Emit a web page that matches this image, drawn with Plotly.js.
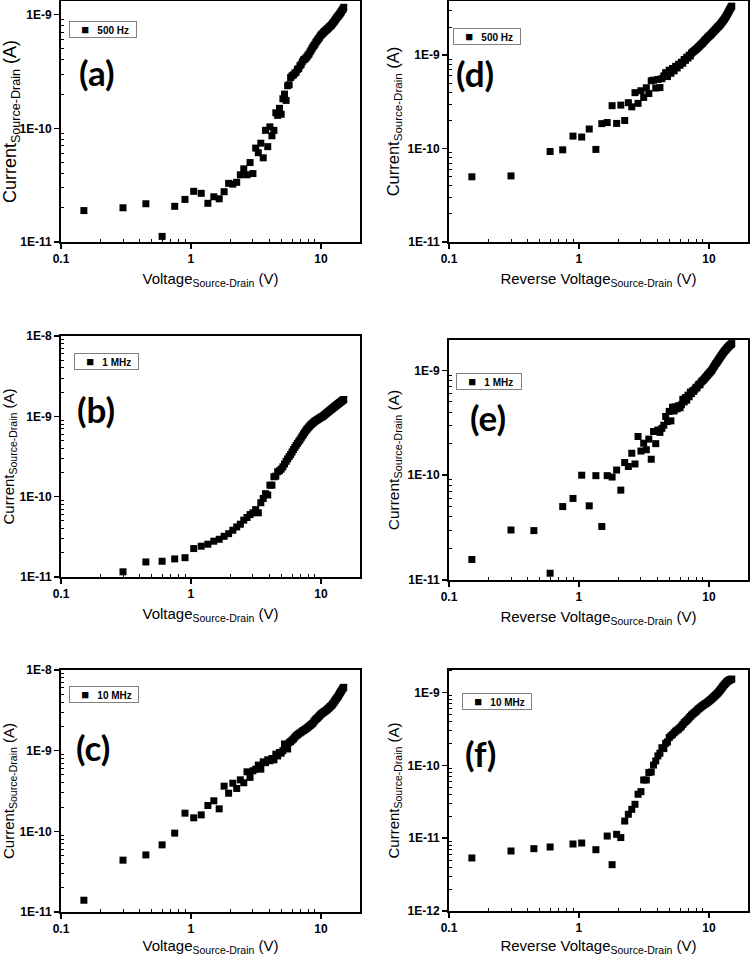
<!DOCTYPE html>
<html>
<head>
<meta charset="utf-8">
<script src="https://cdn.plot.ly/plotly-3.0.1.min.js"></script>
<style>html,body{margin:0;padding:0;background:#fff;}#chart{width:750px;height:956px;}</style>
</head>
<body>
<div id="chart"></div>
<script>
// Source-drain voltage (V), common to all six panels
const voltage = [0.15,0.3,0.45,0.6,0.75,0.9,1.05,1.2,1.35,1.5,
  1.65,1.8,1.95,2.1,2.25,2.4,2.55,2.7,2.85,3.0,
  3.15,3.3,3.45,3.6,3.75,3.9,4.05,4.2,4.35,4.5,
  4.65,4.8,4.95,5.1,5.25,5.4,5.55,5.7,5.85,6.0,
  6.15,6.3,6.45,6.6,6.75,6.9,7.05,7.2,7.35,7.5,
  7.65,7.8,7.95,8.1,8.25,8.4,8.55,8.7,8.85,9.0,
  9.15,9.3,9.45,9.6,9.75,9.9,10.05,10.2,10.35,10.5,
  10.65,10.8,10.95,11.1,11.25,11.4,11.55,11.7,11.85,12.0,
  12.15,12.3,12.45,12.6,12.75,12.9,13.05,13.2,13.35,13.5,
  13.65,13.8,13.95,14.1,14.25,14.4,14.55,14.7,14.85,15.0];

// (a) 500 Hz, forward
const currentA = [1.89e-11,2.0e-11,2.17e-11,1.12e-11,2.06e-11,2.37e-11,2.79e-11,2.68e-11,2.19e-11,2.5e-11,
  2.4e-11,2.77e-11,3.28e-11,3.23e-11,3.35e-11,3.9e-11,4.4e-11,3.9e-11,5.0e-11,4.0e-11,
  6.7e-11,6.1e-11,7.4e-11,5.5e-11,9.6e-11,6.9e-11,1.03e-10,8.6e-11,9.6e-11,1.37e-10,
  1.3e-10,1.5e-10,1.33e-10,1.82e-10,2.0e-10,1.76e-10,2.37e-10,2.42e-10,2.8e-10,2.9e-10,
  2.95e-10,3.05e-10,3.12e-10,3.3e-10,3.35e-10,3.55e-10,3.65e-10,3.85e-10,4.0e-10,4.05e-10,
  4.15e-10,4.25e-10,4.4e-10,4.5e-10,4.7e-10,4.85e-10,5.05e-10,5.2e-10,5.35e-10,5.5e-10,
  5.7e-10,5.85e-10,6.0e-10,6.15e-10,6.3e-10,6.5e-10,6.65e-10,6.75e-10,6.85e-10,7.0e-10,
  7.1e-10,7.2e-10,7.3e-10,7.4e-10,7.5e-10,7.6e-10,7.75e-10,7.85e-10,7.95e-10,8.05e-10,
  8.2e-10,8.35e-10,8.5e-10,8.65e-10,8.8e-10,9.0e-10,9.15e-10,9.35e-10,9.5e-10,9.65e-10,
  9.8e-10,9.95e-10,1.01e-9,1.03e-9,1.05e-9,1.07e-9,1.09e-9,1.11e-9,1.13e-9,1.16e-9];

// (b) 1 MHz, forward
const currentB = [null,1.16e-11,1.54e-11,1.57e-11,1.68e-11,1.74e-11,2.26e-11,2.42e-11,2.56e-11,2.79e-11,
  2.95e-11,3.21e-11,3.46e-11,3.82e-11,4.2e-11,4.54e-11,5.1e-11,5.5e-11,5.98e-11,6.3e-11,
  6.9e-11,6.3e-11,8.4e-11,9.5e-11,1.09e-10,1.05e-10,1.39e-10,1.39e-10,1.77e-10,1.8e-10,
  2.04e-10,2.1e-10,2.2e-10,2.35e-10,2.55e-10,2.75e-10,2.95e-10,3.15e-10,3.35e-10,3.6e-10,
  3.85e-10,4.1e-10,4.35e-10,4.6e-10,4.85e-10,5.1e-10,5.4e-10,5.7e-10,6.0e-10,6.3e-10,
  6.6e-10,6.9e-10,7.15e-10,7.4e-10,7.65e-10,7.9e-10,8.1e-10,8.3e-10,8.5e-10,8.7e-10,
  8.85e-10,9.0e-10,9.15e-10,9.3e-10,9.45e-10,9.6e-10,9.75e-10,9.9e-10,1.0e-9,1.02e-9,
  1.04e-9,1.06e-9,1.08e-9,1.1e-9,1.12e-9,1.14e-9,1.16e-9,1.18e-9,1.2e-9,1.22e-9,
  1.24e-9,1.26e-9,1.28e-9,1.3e-9,1.32e-9,1.34e-9,1.36e-9,1.38e-9,1.4e-9,1.42e-9,
  1.44e-9,1.46e-9,1.48e-9,1.5e-9,1.52e-9,1.54e-9,1.56e-9,1.58e-9,1.6e-9,1.62e-9];

// (c) 10 MHz, forward
const currentC = [1.4e-11,4.39e-11,5.1e-11,6.8e-11,9.5e-11,1.68e-10,1.47e-10,1.6e-10,2.09e-10,2.39e-10,
  1.9e-10,3.63e-10,2.97e-10,3.95e-10,3.4e-10,4.35e-10,4.0e-10,5.47e-10,4.66e-10,5.63e-10,
  5.9e-10,6.62e-10,5.9e-10,7.27e-10,7.1e-10,7.7e-10,7.5e-10,8.0e-10,7.7e-10,9.05e-10,
  8.6e-10,9.5e-10,9.3e-10,1.0e-9,1.21e-9,1.1e-9,1.05e-9,1.26e-9,1.3e-9,1.35e-9,
  1.4e-9,1.47e-9,1.53e-9,1.57e-9,1.62e-9,1.66e-9,1.7e-9,1.75e-9,1.78e-9,1.82e-9,
  1.86e-9,1.9e-9,1.95e-9,2.0e-9,2.05e-9,2.1e-9,2.15e-9,2.2e-9,2.3e-9,2.38e-9,
  2.45e-9,2.5e-9,2.56e-9,2.63e-9,2.7e-9,2.78e-9,2.85e-9,2.9e-9,2.95e-9,3.0e-9,
  3.05e-9,3.1e-9,3.15e-9,3.2e-9,3.27e-9,3.33e-9,3.4e-9,3.47e-9,3.53e-9,3.6e-9,
  3.68e-9,3.78e-9,3.88e-9,3.98e-9,4.1e-9,4.22e-9,4.35e-9,4.45e-9,4.55e-9,4.65e-9,
  4.8e-9,4.95e-9,5.1e-9,5.25e-9,5.4e-9,5.55e-9,5.7e-9,5.85e-9,6.0e-9,6.1e-9];

// (d) 500 Hz, reverse
const currentD = [4.99e-11,5.1e-11,null,9.3e-11,9.7e-11,1.36e-10,1.33e-10,1.62e-10,9.8e-11,1.85e-10,
  1.9e-10,2.88e-10,1.86e-10,2.92e-10,2.0e-10,3.1e-10,2.8e-10,3.97e-10,3.05e-10,4.16e-10,
  3.53e-10,4.48e-10,3.89e-10,5.32e-10,5.4e-10,4.45e-10,5.5e-10,4.5e-10,5.6e-10,6.0e-10,
  6.5e-10,5.9e-10,6.9e-10,6.4e-10,7.2e-10,6.8e-10,7.6e-10,7.3e-10,8.0e-10,7.8e-10,
  8.4e-10,8.2e-10,9.0e-10,8.8e-10,9.5e-10,9.3e-10,1.0e-9,9.8e-10,1.05e-9,1.08e-9,
  1.1e-9,1.13e-9,1.15e-9,1.18e-9,1.21e-9,1.24e-9,1.27e-9,1.3e-9,1.33e-9,1.36e-9,
  1.4e-9,1.44e-9,1.47e-9,1.5e-9,1.54e-9,1.57e-9,1.6e-9,1.63e-9,1.66e-9,1.7e-9,
  1.74e-9,1.78e-9,1.81e-9,1.85e-9,1.88e-9,1.92e-9,1.96e-9,2.0e-9,2.03e-9,2.07e-9,
  2.11e-9,2.15e-9,2.2e-9,2.25e-9,2.3e-9,2.35e-9,2.4e-9,2.46e-9,2.52e-9,2.58e-9,
  2.65e-9,2.72e-9,2.8e-9,2.88e-9,2.96e-9,3.05e-9,3.13e-9,3.2e-9,3.28e-9,3.35e-9];

// (e) 1 MHz, reverse
const currentE = [1.57e-11,3.0e-11,2.96e-11,1.16e-11,5.02e-11,6.0e-11,1.0e-10,5.1e-11,9.9e-11,3.24e-11,
  9.9e-11,9.6e-11,1.12e-10,7.2e-11,1.32e-10,1.21e-10,1.62e-10,1.28e-10,2.34e-10,1.7e-10,
  2.02e-10,1.75e-10,2.21e-10,1.42e-10,2.61e-10,2.0e-10,2.7e-10,2.56e-10,2.8e-10,3.0e-10,
  3.63e-10,3.25e-10,4.06e-10,3.3e-10,4.46e-10,4.1e-10,4.5e-10,4.3e-10,4.6e-10,4.4e-10,
  4.7e-10,5.3e-10,5.0e-10,5.5e-10,5.2e-10,5.8e-10,5.6e-10,6.2e-10,6.0e-10,6.4e-10,
  6.3e-10,6.6e-10,6.9e-10,6.8e-10,7.2e-10,7.4e-10,7.3e-10,7.7e-10,7.9e-10,8.0e-10,
  8.2e-10,8.4e-10,8.6e-10,8.8e-10,9.0e-10,9.2e-10,9.4e-10,9.6e-10,9.8e-10,1.0e-9,
  1.03e-9,1.06e-9,1.09e-9,1.12e-9,1.15e-9,1.17e-9,1.2e-9,1.23e-9,1.26e-9,1.29e-9,
  1.32e-9,1.35e-9,1.38e-9,1.41e-9,1.44e-9,1.47e-9,1.5e-9,1.53e-9,1.55e-9,1.58e-9,
  1.6e-9,1.63e-9,1.65e-9,1.68e-9,1.7e-9,1.72e-9,1.74e-9,1.76e-9,1.78e-9,1.8e-9];

// (f) 10 MHz, reverse
const currentF = [5.35e-12,6.67e-12,7.18e-12,7.57e-12,null,8.32e-12,8.59e-12,null,6.95e-12,null,
  1.07e-11,4.33e-12,1.13e-11,1.02e-11,1.72e-11,2.13e-11,2.49e-11,2.92e-11,4.01e-11,4.36e-11,
  6.3e-11,6.3e-11,7.96e-11,8.1e-11,1.01e-10,1.15e-10,1.35e-10,1.47e-10,1.75e-10,1.7e-10,
  2.01e-10,2.1e-10,2.41e-10,2.54e-10,2.65e-10,2.8e-10,2.95e-10,3.05e-10,3.15e-10,3.3e-10,
  3.45e-10,3.65e-10,3.85e-10,4.0e-10,4.15e-10,4.3e-10,4.5e-10,4.7e-10,4.9e-10,5.05e-10,
  5.2e-10,5.35e-10,5.5e-10,5.7e-10,5.9e-10,6.05e-10,6.2e-10,6.35e-10,6.5e-10,6.65e-10,
  6.8e-10,6.95e-10,7.05e-10,7.2e-10,7.35e-10,7.5e-10,7.7e-10,7.85e-10,8.0e-10,8.2e-10,
  8.4e-10,8.6e-10,8.8e-10,9.0e-10,9.2e-10,9.4e-10,9.6e-10,9.85e-10,1.01e-9,1.04e-9,
  1.07e-9,1.1e-9,1.13e-9,1.16e-9,1.2e-9,1.23e-9,1.26e-9,1.29e-9,1.32e-9,1.35e-9,
  1.38e-9,1.41e-9,1.43e-9,1.45e-9,1.47e-9,1.49e-9,1.5e-9,1.51e-9,1.52e-9,1.53e-9];

const seriesNames = ['500 Hz','1 MHz','10 MHz','500 Hz','1 MHz','10 MHz'];
const panelLabels = ['(a)','(b)','(c)','(d)','(e)','(f)'];
const xTickVals = [0.1, 1, 10];
const xTickText = ['0.1', '1', '10'];
const yTitle = 'Current<sub>Source-Drain</sub> (A)';
const xTitleFwd = 'Voltage<sub>Source-Drain</sub> (V)';
const xTitleRev = 'Reverse Voltage<sub>Source-Drain</sub> (V)';

const W = 750, H = 956;
const FONT = 'Liberation Sans, Arial, sans-serif';

// panel geometry in pixels: [left, right, top, bottom], y log range
const panels = [
  {px:[61,360,1,242],   yr:[-11,-8.88], yTicks:[-11,-9], yTitleSize:18},
  {px:[61,360,336,577], yr:[-11,-8],    yTicks:[-11,-8], yTitleSize:15},
  {px:[61,360,670,912], yr:[-11,-8],    yTicks:[-11,-8], yTitleSize:15},
  {px:[449,748,1,242],  yr:[-11,-8.42], yTicks:[-11,-9], yTitleSize:16.5},
  {px:[449,748,340,580],yr:[-11,-8.71], yTicks:[-11,-9], yTitleSize:15.5},
  {px:[449,748,670,911],yr:[-12,-8.69], yTicks:[-12,-9], yTitleSize:15}
];
const series = [currentA, currentB, currentC, currentD, currentE, currentF];
const xTitles = [xTitleFwd, xTitleFwd, xTitleFwd, xTitleRev, xTitleRev, xTitleRev];
// legend box: [left, top, inner width]
const legendBox = [[69,21,66],[74,353,63],[69,686,68],[453,28,66],[456,373,64],[462,693,68]];
const labelPos = [[97,72],[96,409],[93,747],[475,73],[488,417],[480,753]];

function minorVals(lo, hi) {
  const out = [];
  for (let e = lo; e <= hi; e++) for (let m = 2; m <= 9; m++) out.push(m * Math.pow(10, e));
  return out;
}

const traces = [];
const layout = {
  width: W, height: H,
  margin: {l:0, r:0, t:0, b:0},
  paper_bgcolor: '#fff', plot_bgcolor: '#fff',
  font: {family: FONT, color: '#000'},
  showlegend: false,
  annotations: []
};

panels.forEach((p, i) => {
  const n = i === 0 ? '' : String(i + 1);
  const [l, r, t, b] = p.px;
  const xd = [l / W, r / W];
  const yd = [1 - b / H, 1 - t / H];
  const ytv = [], ytt = [];
  for (let e = p.yTicks[0]; e <= p.yTicks[1]; e++) { ytv.push(Math.pow(10, e)); ytt.push('1E' + e); }
  const tickFont = {family: FONT, size: 12, color: '#000', weight: 'bold'};
  layout['xaxis' + n] = {
    type: 'log', domain: xd, anchor: 'y' + n, range: [-1, Math.log10(20)],
    tickmode: 'array', tickvals: xTickVals, ticktext: xTickText,
    ticks: 'outside', ticklen: 5, tickwidth: 1.5, tickcolor: '#000',
    minor: {tickmode: 'array', tickvals: minorVals(-1, 1).filter(v => v < 20), ticks: 'inside', ticklen: 3, tickwidth: 1, tickcolor: '#000', showgrid: false},
    showline: true, linewidth: 2, linecolor: '#000', mirror: true,
    showgrid: false, zeroline: false, automargin: false,
    tickfont: tickFont,
    title: {text: xTitles[i], font: {family: FONT, size: 15, color: '#000'}, standoff: 8}
  };
  layout['yaxis' + n] = {
    type: 'log', domain: yd, anchor: 'x' + n, range: p.yr,
    tickmode: 'array', tickvals: ytv, ticktext: ytt,
    ticks: 'outside', ticklen: 5, tickwidth: 1.5, tickcolor: '#000',
    minor: {tickmode: 'array', tickvals: minorVals(p.yTicks[0], p.yTicks[1]), ticks: 'inside', ticklen: 3, tickwidth: 1, tickcolor: '#000', showgrid: false},
    showline: true, linewidth: 2, linecolor: '#000', mirror: true,
    showgrid: false, zeroline: false, automargin: false,
    tickfont: tickFont,
    title: {text: yTitle, font: {family: FONT, size: p.yTitleSize, color: '#000'}, standoff: 4}
  };
  traces.push({
    type: 'scatter', mode: 'markers', x: voltage, y: series[i],
    xaxis: 'x' + n, yaxis: 'y' + n, name: seriesNames[i], showlegend: false,
    marker: {symbol: 'square', size: 7, color: '#000'},
    cliponaxis: true
  });
  // legend box (key square + series name)
  const lb = legendBox[i];
  layout.annotations.push({
    xref: 'paper', yref: 'paper', x: lb[0] / W, y: 1 - lb[1] / H,
    xanchor: 'left', yanchor: 'top', showarrow: false,
    width: lb[2], align: 'left',
    text: '&nbsp;&nbsp;&nbsp;&nbsp;<span style="font-size:13px">\u25A0</span>&nbsp;&nbsp;&nbsp;' + seriesNames[i],
    font: {family: FONT, size: 10, color: '#000', weight: 'bold'},
    bgcolor: '#fff', bordercolor: '#808080', borderwidth: 1, borderpad: 0
  });
  // panel label
  layout.annotations.push({
    xref: 'paper', yref: 'paper', x: labelPos[i][0] / W, y: 1 - labelPos[i][1] / H,
    xanchor: 'center', yanchor: 'middle', showarrow: false,
    text: panelLabels[i],
    font: {family: 'Lato, Open Sans, sans-serif', size: 35, color: '#000', weight: 'bold'}
  });
});

Plotly.newPlot('chart', traces, layout, {staticPlot: true, displayModeBar: false});
</script>
</body>
</html>
